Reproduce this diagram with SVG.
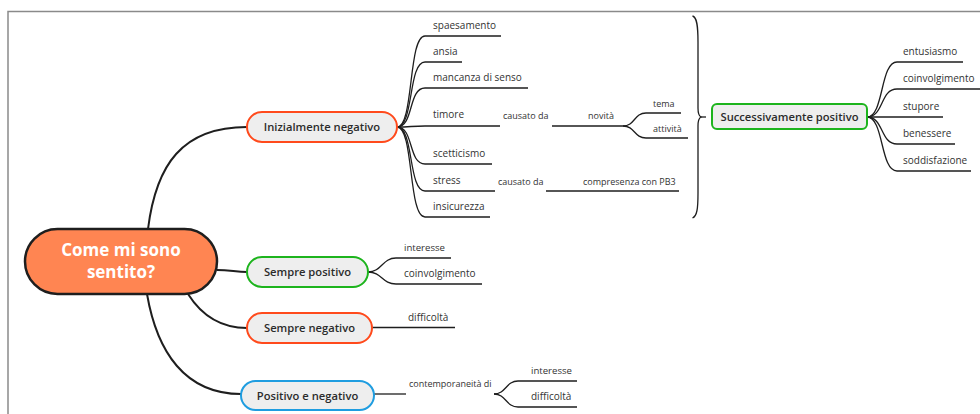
<svg xmlns="http://www.w3.org/2000/svg" width="980" height="414" viewBox="0 0 980 414">
<style>
.frame{fill:none;stroke:#8a8a8a;stroke-width:1.5}
.c{fill:none;stroke:#1e1e1e;stroke-width:1.3}
.m{fill:none;stroke:#1e1e1e;stroke-width:2}
.n{fill:#eeeeee;stroke-width:2}
.red{stroke:#ff4a1c}
.green{stroke:#1db41d}
.blue{stroke:#1f9de0}
.nt{font-family:"Open Sans","Liberation Sans",sans-serif;font-weight:600;font-size:11.2px;fill:#2b2b2b;text-anchor:middle}
.lt{font-family:"Open Sans","Liberation Sans",sans-serif;font-size:10px;fill:#333}
.st{font-family:"Open Sans","Liberation Sans",sans-serif;font-size:9px;fill:#333}
.rt{font-family:"Open Sans","Liberation Sans",sans-serif;font-weight:700;font-size:17px;fill:#ffffff;text-anchor:middle}
</style>
<rect width="980" height="414" fill="#ffffff"/>
<path class="frame" d="M8,414 L8,11.5 L980,11.5"/>
<g id="connectors">
<path class="m" d="M148,229 C156,165 182,127 247,127"/>
<path class="m" d="M217,270 C230,270 236,272 247,272"/>
<path class="m" d="M188,294 C202,316 222,328 247,328"/>
<path class="m" d="M147,294 C157,352 185,394 241,394"/>
<path class="c" d="M397,127 C414,127 408,36 425,36 L501,36"/>
<path class="c" d="M397,127 C414,127 408,62 425,62 L462,62"/>
<path class="c" d="M397,127 C414,127 408,88 425,88 L528,88"/>
<path class="c" d="M397,127 C410,127 412,126 425,126 L500,126"/>
<path class="c" d="M397,127 C414,127 408,164 425,164 L492,164"/>
<path class="c" d="M397,127 C414,127 408,191 425,191 L495,191"/>
<path class="c" d="M397,127 C414,127 408,217 425,217 L490,217"/>
<path class="c" d="M552,126 L623,126"/>
<path class="c" d="M623,126 C635,126 634,113 646,113 L681,113"/>
<path class="c" d="M623,126 C635,126 634,138 646,138 L688,138"/>
<path class="c" d="M546,191 L679,191"/>
<path class="c" d="M692.5,16 C697,17 698,26 698,42 L698,108 C698,113 699,116 701,117 C699,118 698,121 698,126 L698,193 C698,209 697,216 692.5,218"/>
<path class="c" d="M701,117 L706,117"/>
<path class="c" d="M867,117 C884,117 880,62 897,62 L963,62"/>
<path class="c" d="M867,117 C884,117 880,89 897,89 L980,89"/>
<path class="c" d="M867,117 L943,117"/>
<path class="c" d="M867,117 C884,117 880,144 897,144 L955,144"/>
<path class="c" d="M867,117 C884,117 880,171 897,171 L971,171"/>
<path class="c" d="M368,272 C382,272 382,258 396,258 L451,258"/>
<path class="c" d="M368,272 C382,272 382,284 396,284 L482,284"/>
<path class="c" d="M372,327.5 L455,327.5"/>
<path class="c" d="M374,394 L406,394"/>
<path class="c" d="M494,394 C506,394 506,381 518,381 L577,381"/>
<path class="c" d="M494,394 C506,394 506,407 518,407 L577,407"/>
</g>
<g id="root">
<rect x="25" y="229" width="192" height="65" rx="32.5" fill="#ff8552" stroke="#1e1e1e" stroke-width="2.5"/>
<text class="rt" x="121" y="256">Come mi sono</text>
<text class="rt" x="121" y="278">sentito?</text>
</g>
<g id="inizialmente-negativo">
<rect class="n red" x="247" y="112" width="150" height="30" rx="15"/>
<text class="nt" x="322" y="131">Inizialmente negativo</text>
</g>
<g id="successivamente-positivo">
<rect class="n green" x="712" y="104" width="155" height="25" rx="5"/>
<text class="nt" x="789.5" y="120.5">Successivamente positivo</text>
</g>
<g id="sempre-positivo">
<rect class="n green" x="247" y="257" width="121" height="30" rx="15"/>
<text class="nt" x="307.5" y="276">Sempre positivo</text>
</g>
<g id="sempre-negativo">
<rect class="n red" x="247" y="313" width="125" height="30" rx="15"/>
<text class="nt" x="309.5" y="332">Sempre negativo</text>
</g>
<g id="positivo-e-negativo">
<rect class="n blue" x="241" y="381" width="133" height="29" rx="14.5"/>
<text class="nt" x="307.5" y="399.5">Positivo e negativo</text>
</g>
<g id="leaf-spaesamento"><text class="lt" x="433" y="29">spaesamento</text></g>
<g id="leaf-ansia"><text class="lt" x="433" y="55">ansia</text></g>
<g id="leaf-mancanza"><text class="lt" x="433" y="81">mancanza di senso</text></g>
<g id="leaf-timore"><text class="lt" x="433" y="118">timore</text></g>
<g id="label-causato1"><text class="st" x="503" y="119">causato da</text></g>
<g id="leaf-novita"><text class="st" x="588" y="119">novità</text></g>
<g id="leaf-tema"><text class="st" x="653" y="107">tema</text></g>
<g id="leaf-attivita"><text class="st" x="653" y="132">attività</text></g>
<g id="leaf-scetticismo"><text class="lt" x="433" y="157">scetticismo</text></g>
<g id="leaf-stress"><text class="lt" x="433" y="184">stress</text></g>
<g id="label-causato2"><text class="st" x="498" y="185">causato da</text></g>
<g id="leaf-compresenza"><text class="st" x="583" y="185">compresenza con PB3</text></g>
<g id="leaf-insicurezza"><text class="lt" x="433" y="210">insicurezza</text></g>
<g id="leaf-entusiasmo"><text class="lt" x="903" y="54.5">entusiasmo</text></g>
<g id="leaf-coinvolgimento1"><text class="lt" x="903" y="81.5">coinvolgimento</text></g>
<g id="leaf-stupore"><text class="lt" x="903" y="109.5">stupore</text></g>
<g id="leaf-benessere"><text class="lt" x="903" y="136.5">benessere</text></g>
<g id="leaf-soddisfazione"><text class="lt" x="903" y="163.5">soddisfazione</text></g>
<g id="leaf-interesse1"><text class="lt" x="404" y="251" style="font-size:9.6px">interesse</text></g>
<g id="leaf-coinvolgimento2"><text class="lt" x="404" y="277">coinvolgimento</text></g>
<g id="leaf-difficolta1"><text class="lt" x="408" y="320.5">difficoltà</text></g>
<g id="label-contemporaneita"><text class="st" x="409" y="387">contemporaneità di</text></g>
<g id="leaf-interesse2"><text class="lt" x="531" y="374" style="font-size:9.6px">interesse</text></g>
<g id="leaf-difficolta2"><text class="lt" x="531" y="400">difficoltà</text></g>
</svg>
